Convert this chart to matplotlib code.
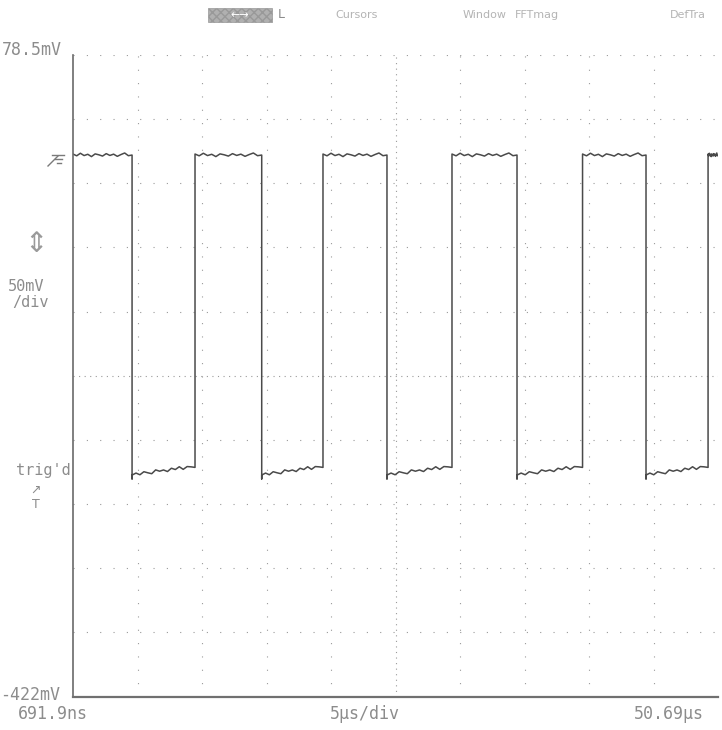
import numpy as np
import matplotlib.pyplot as plt
from matplotlib.patches import Rectangle
from matplotlib.lines import Line2D

# Skala layar osiloskop
t_start = 0.6919      # us (kiri)
t_end = 50.69         # us (kanan)
v_top = 78.5          # mV
v_bottom = -422.0     # mV
t_div = 5.0           # us/div
v_div = 50.0          # mV/div

# Tepi gelombang kotak (us)
fall_t = [5.27, 15.32, 25.03, 35.11, 45.11]
rise_t = [10.15, 20.07, 30.07, 40.19, 49.92]

# Level tegangan (mV)
high_mv = 0.5
low_start_mv = -249.0
low_end_mv = -243.0
undershoot_mv = -252.0

# Riak kecil pada bagian datar (mV)
ripple_high = [0.8, -0.6, 1.4, -0.4, 0.6, -1.2, 0.9, 0.2, -0.8, 1.1, -0.3, 0.7, -1.0, 0.4, 1.6, -0.5]
ripple_low = [0.0, 1.2, -0.5, 1.5, 0.3, -0.8, 1.8, 0.4, 1.0, -0.6, 1.6, 0.2, 2.0, -0.4, 1.4, 0.8]

trace_col = '#4a4a4a'
grid_col = '#9a9a9a'
text_col = '#8c8c8c'
mono = 'DejaVu Sans Mono'


def build_trace():
    """Susun titik jejak dari tepi dan level yang dibaca."""
    ts, vs = [], []
    edges = sorted([(t, 'f') for t in fall_t] + [(t, 'r') for t in rise_t])
    seg_start = t_start
    state = 'h'
    for t_edge, kind in edges + [(t_end, 'end')]:
        n = len(ripple_high)
        for i in range(n):
            tt = seg_start + (t_edge - seg_start) * i / n
            if state == 'h':
                vs.append(high_mv + ripple_high[i])
            else:
                base = low_start_mv + (low_end_mv - low_start_mv) * i / n
                vs.append(base + ripple_low[i])
            ts.append(tt)
        if kind == 'f':
            ts += [t_edge, t_edge]
            vs += [high_mv, undershoot_mv]
            state = 'l'
        elif kind == 'r':
            ts += [t_edge, t_edge]
            vs += [low_end_mv, high_mv]
            state = 'h'
        else:
            ts.append(t_edge)
            vs.append(vs[-1])
        seg_start = t_edge
    return ts, vs


def px(x, y):
    # piksel gambar -> koordinat figure
    return x / 722, 1 - y / 730


fig = plt.figure(figsize=(7.22, 7.30), dpi=100)
ax = fig.add_axes([73 / 722, 33 / 730, 645 / 722, 642 / 730])
ax.set_xlim(t_start, t_end)
ax.set_ylim(v_bottom, v_top)

# Grid titik-titik
for k in range(1, 10):
    x = t_start + k * t_div
    ls = (0, (1, 4)) if k == 5 else (0, (1, 11))
    ax.axvline(x, color=grid_col, lw=0.8, ls=ls)
for k in range(0, 10):
    y = v_top - k * v_div
    ls = (0, (1, 4)) if k == 5 else (0, (1, 11))
    ax.axhline(y, color=grid_col, lw=0.8, ls=ls)

ts, vs = build_trace()
ax.plot(ts, vs, color=trace_col, lw=1.1)

for s in ['top', 'right']:
    ax.spines[s].set_visible(False)
ax.spines['left'].set_color('#6a6a6a')
ax.spines['left'].set_linestyle((0, (2, 1)))
ax.spines['left'].set_linewidth(1.2)
ax.spines['bottom'].set_color('#707070')
ax.spines['bottom'].set_linewidth(1.6)
ax.set_xticks([])
ax.set_yticks([])

# Label kiri
fig.text(*px(2, 50), '78.5mV', fontsize=12, color=text_col, family=mono, va='center')
fig.text(*px(8, 286), '50mV', fontsize=11, color=text_col, family=mono, va='center')
fig.text(*px(12, 303), '/div', fontsize=11, color=text_col, family=mono, va='center')
fig.text(*px(16, 471), "trig'd", fontsize=11, color=text_col, family=mono, va='center')
fig.text(*px(0, 695), '-422mV', fontsize=12, color=text_col, family=mono, va='center')

# Label bawah
fig.text(*px(18, 714), '691.9ns', fontsize=12, color=text_col, family=mono, va='center')
fig.text(*px(330, 714), '5\u00b5s/div', fontsize=12, color=text_col, family=mono, va='center')
fig.text(*px(634, 714), '50.69\u00b5s', fontsize=12, color=text_col, family=mono, va='center')

# Menu atas
fig.patches.append(Rectangle(px(208, 22), 64 / 722, 14 / 730,
                             transform=fig.transFigure, facecolor='#b0b0b0',
                             edgecolor='#999999', hatch='xxxx', lw=0.5))
fig.text(*px(240, 15), '\u2190\u2192', fontsize=8, color='white', ha='center', va='center')
fig.text(*px(278, 15), 'L', fontsize=9, color=text_col, va='center')
for xpos, lab in [(335, 'Cursors'), (463, 'Window'), (515, 'FFTmag'), (670, 'DefTra')]:
    fig.text(*px(xpos, 15), lab, fontsize=8, color='#b4b4b4', va='center')

# Simbol ground (digambar sebagai garis)
gnd = [
    [(48, 166), (58, 156)],
    [(52, 155), (64, 155)],
    [(55, 159), (62, 159)],
    [(57, 163), (61, 163)],
]
for seg in gnd:
    (x0, y0), (x1, y1) = seg
    a = px(x0, y0)
    b = px(x1, y1)
    fig.add_artist(Line2D([a[0], b[0]], [a[1], b[1]], color='#7a7a7a', lw=1.0,
                          transform=fig.transFigure))

# Panah skala dan trigger
fig.text(*px(36, 244), '\u21d5', fontsize=20, color='#9a9a9a', ha='center', va='center', family=['DejaVu Sans'])
fig.text(*px(36, 490), '\u2197', fontsize=9, color=text_col, ha='center', va='center', family=['DejaVu Sans'])
fig.text(*px(36, 504), 'T', fontsize=9, color=text_col, ha='center', va='center', family=['DejaVu Sans'])

fig.savefig('out.png', dpi=100, facecolor='white')
